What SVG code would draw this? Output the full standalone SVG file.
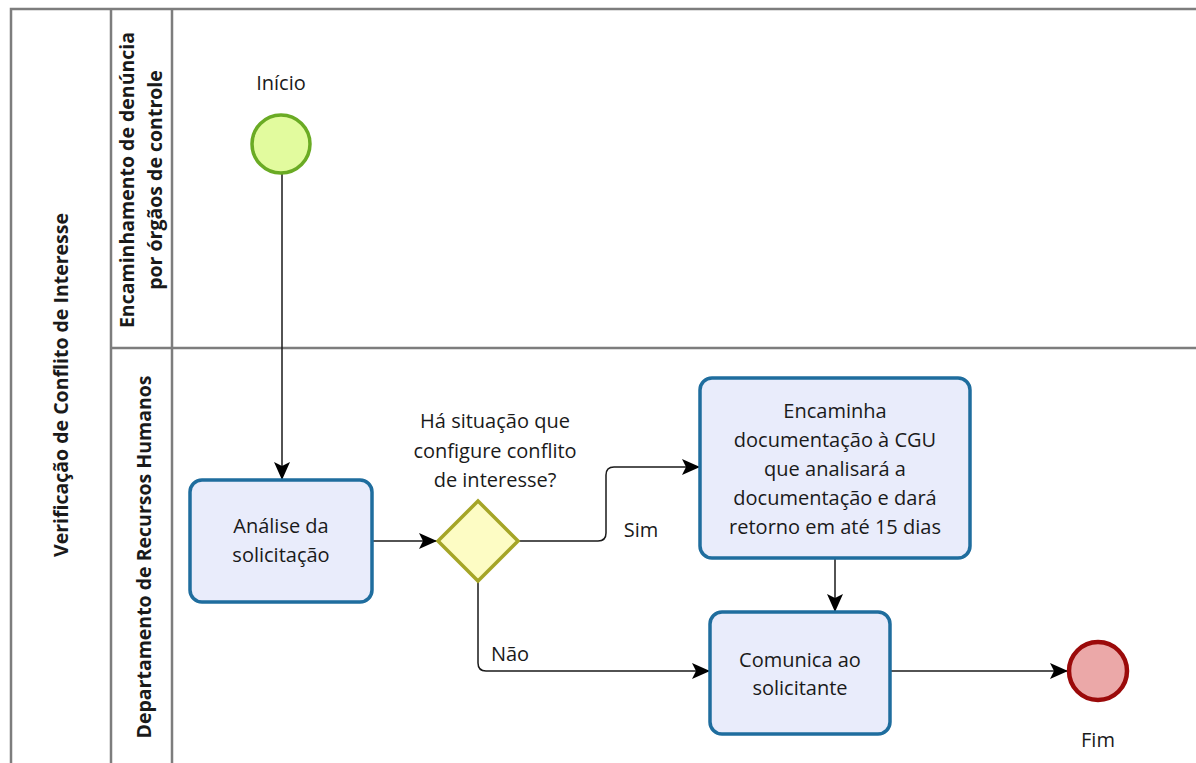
<svg xmlns="http://www.w3.org/2000/svg" width="1196" height="763" viewBox="0 0 1196 763">
  <style>
    .pool { fill: none; stroke: #7d7d7d; stroke-width: 2.5; }
    .hdr { font-family: "Open Sans", "Noto Sans", sans-serif; font-weight: bold; font-size: 19.5px; fill: #1a1a1a; text-anchor: middle; }
    .lbl { font-family: "Open Sans", "Noto Sans", sans-serif; font-size: 20px; fill: #1a1a1a; text-anchor: middle; }
    .task { fill: #e9ecfb; stroke: #1f6d9e; stroke-width: 3.5; }
    .flow { fill: none; stroke: #1a1a1a; stroke-width: 1.5; }
  </style>
  <defs>
    <marker id="arrow" markerWidth="20" markerHeight="18" refX="18" refY="9" orient="auto" markerUnits="userSpaceOnUse">
      <path d="M0,1 L18,9 L0,17 L4,9 Z" fill="#000"/>
    </marker>
  </defs>
  <rect width="1196" height="763" fill="#fff"/>

  <!-- pool and lanes -->
  <g id="pool">
    <path class="pool" d="M1196,9 H11 V763"/>
    <path class="pool" d="M111,9 V763"/>
    <path class="pool" d="M172,9 V763"/>
    <path class="pool" d="M111,348 H1196"/>
    <text class="hdr" transform="translate(68,385) rotate(-90)">Verificação de Conflito de Interesse</text>
  </g>
  <g id="lane-denuncia">
    <text class="hdr" transform="translate(134,180) rotate(-90)">Encaminhamento de denúncia</text>
    <text class="hdr" transform="translate(162,180) rotate(-90)">por órgãos de controle</text>
  </g>
  <g id="lane-rh">
    <text class="hdr" transform="translate(151,557) rotate(-90)">Departamento de Recursos Humanos</text>
  </g>

  <!-- sequence flows -->
  <g id="connectors">
    <path class="flow" d="M282,174 V480" marker-end="url(#arrow)"/>
    <path class="flow" d="M372,541 H437" marker-end="url(#arrow)"/>
    <path class="flow" d="M518,541 H598 Q606,541 606,533 V475 Q606,467 614,467 H700" marker-end="url(#arrow)"/>
    <path class="flow" d="M478,581 V663 Q478,671 486,671 H710" marker-end="url(#arrow)"/>
    <path class="flow" d="M835,558 V612" marker-end="url(#arrow)"/>
    <path class="flow" d="M890,671 H1068" marker-end="url(#arrow)"/>
    <text class="lbl" x="641" y="537">Sim</text>
    <text class="lbl" x="510" y="661">Não</text>
  </g>

  <g id="start">
    <circle cx="281" cy="144" r="29" fill="#e2fb9e" stroke="#6aab24" stroke-width="3.5"/>
    <text class="lbl" x="281" y="90">Início</text>
  </g>

  <g id="task-analise">
    <rect class="task" x="190" y="480" width="182" height="122" rx="12"/>
    <text class="lbl" x="281" y="533">Análise da</text>
    <text class="lbl" x="281" y="562">solicitação</text>
  </g>

  <g id="gateway">
    <path d="M478,501 L518,541 L478,581 L438,541 Z" fill="#fdfcc4" stroke="#a5a527" stroke-width="3.5"/>
    <text class="lbl" x="495" y="428">Há situação que</text>
    <text class="lbl" x="495" y="458">configure conflito</text>
    <text class="lbl" x="495" y="487">de interesse?</text>
  </g>

  <g id="task-encaminha">
    <rect class="task" x="700" y="378" width="270" height="180" rx="12"/>
    <text class="lbl" x="835" y="418">Encaminha</text>
    <text class="lbl" x="835" y="447">documentação à CGU</text>
    <text class="lbl" x="835" y="476">que analisará a</text>
    <text class="lbl" x="835" y="505">documentação e dará</text>
    <text class="lbl" x="835" y="534">retorno em até 15 dias</text>
  </g>

  <g id="task-comunica">
    <rect class="task" x="710" y="612" width="180" height="122" rx="12"/>
    <text class="lbl" x="800" y="667">Comunica ao</text>
    <text class="lbl" x="800" y="695">solicitante</text>
  </g>

  <g id="end">
    <circle cx="1098" cy="671" r="29" fill="#eba8a8" stroke="#9b0a0a" stroke-width="4.5"/>
    <text class="lbl" x="1098" y="747">Fim</text>
  </g>
</svg>
